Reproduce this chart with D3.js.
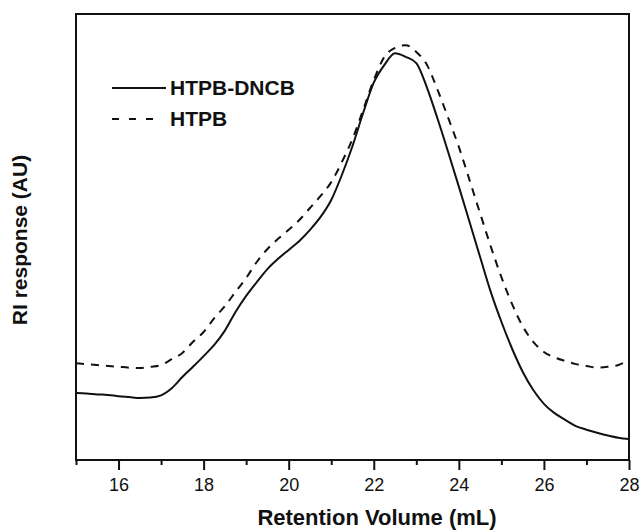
<!DOCTYPE html>
<html>
<head>
<meta charset="utf-8">
<script src="https://cdn.jsdelivr.net/npm/d3@7"></script>
<style>
  body { margin: 0; background: #fff; }
  text { font-family: "Liberation Sans", Arial, sans-serif; fill: #111; }
</style>
</head>
<body>
<div id="d3"></div>
<script>
// retention volume (mL), every 0.25 mL
const volume = d3.range(53).map((i) => 15 + i * 0.25);

// RI response (AU), arbitrary 0-100 units
const htpbDncb = [
  15.0, 14.9, 14.7, 14.6, 14.3, 14.1, 13.9, 14.0, 14.5, 16.1,
  18.6, 20.9, 23.3, 25.8, 29.0, 33.2, 36.8, 39.9, 42.8, 45.1,
  47.1, 49.1, 51.6, 54.5, 58.3, 63.9, 70.4, 77.8, 84.6, 88.6,
  91.2, 90.4, 89.0, 83.5, 76.5, 69.0, 61.3, 53.4, 45.5, 37.7,
  31.0, 25.0, 19.8, 15.7, 12.6, 10.5, 9.0, 7.6, 6.8, 6.1,
  5.5, 5.0, 4.7
];

const htpb = [
  21.7, 21.5, 21.3, 21.1, 20.9, 20.7, 20.6, 20.9, 21.3, 22.6,
  24.0, 26.5, 28.7, 31.8, 34.5, 37.7, 40.8, 44.4, 47.3, 49.6,
  51.6, 53.8, 56.5, 59.2, 62.3, 66.8, 72.0, 78.5, 85.2, 90.4,
  92.4, 93.0, 91.5, 88.6, 83.0, 76.7, 70.2, 62.8, 55.3, 47.9,
  41.0, 35.0, 30.0, 26.5, 24.2, 23.0, 22.2, 21.5, 21.1, 20.7,
  20.9, 21.3, 22.4
];

const majorTicks = [16, 18, 20, 22, 24, 26, 28];
const minorTicks = [15, 17, 19, 21, 23, 25, 27];

const seriesNames = ['HTPB-DNCB', 'HTPB'];

function init() {
  const width = 640;
  const height = 530;
  const left = 76;
  const right = 629;
  const top = 14;
  const bottom = 460;

  const svg = d3
    .select('#d3')
    .append('svg')
    .attr('width', width)
    .attr('height', height);

  const x = d3.scaleLinear().domain([15, 28]).range([left, right]);
  const y = d3.scaleLinear().domain([0, 100]).range([bottom, top]);

  // minor ticks first, no labels
  svg
    .append('g')
    .attr('transform', `translate(0,${bottom})`)
    .call(d3.axisBottom(x).tickValues(minorTicks).tickSize(5).tickFormat(''))
    .call((g) => g.select('.domain').remove())
    .selectAll('line')
    .attr('stroke', '#111')
    .attr('stroke-width', 2);

  const xAxis = svg
    .append('g')
    .attr('transform', `translate(0,${bottom})`)
    .call(d3.axisBottom(x).tickValues(majorTicks).tickSize(10).tickPadding(8));
  xAxis.select('.domain').remove();
  xAxis.selectAll('line').attr('stroke', '#111').attr('stroke-width', 2);
  xAxis
    .selectAll('text')
    .attr('font-size', 18)
    .attr('font-family', '"Liberation Sans", Arial, sans-serif')
    .attr('fill', '#111');

  // plot frame
  svg
    .append('rect')
    .attr('x', left)
    .attr('y', top)
    .attr('width', right - left)
    .attr('height', bottom - top)
    .attr('fill', 'none')
    .attr('stroke', '#111')
    .attr('stroke-width', 2);

  const line = (values) =>
    d3
      .line()
      .x((d, i) => x(volume[i]))
      .y((d) => y(d))
      .curve(d3.curveMonotoneX)(values);

  svg
    .append('path')
    .attr('d', line(htpb))
    .attr('fill', 'none')
    .attr('stroke', '#111')
    .attr('stroke-width', 2)
    .attr('stroke-dasharray', '8,7');

  svg
    .append('path')
    .attr('d', line(htpbDncb))
    .attr('fill', 'none')
    .attr('stroke', '#111')
    .attr('stroke-width', 2);

  // legend
  const legend = svg.append('g');
  [0, 1].forEach((i) => {
    const ly = 88 + i * 31;
    legend
      .append('line')
      .attr('x1', 112)
      .attr('x2', i === 0 ? 166 : 162)
      .attr('y1', ly)
      .attr('y2', ly)
      .attr('stroke', '#111')
      .attr('stroke-width', 2)
      .attr('stroke-dasharray', i === 0 ? null : '7,10');
    legend
      .append('text')
      .attr('x', 170)
      .attr('y', ly + 7)
      .attr('font-size', 21)
      .attr('font-weight', 'bold')
      .text(seriesNames[i]);
  });

  // axis titles
  svg
    .append('text')
    .attr('x', 377)
    .attr('y', 525)
    .attr('text-anchor', 'middle')
    .attr('font-size', 22)
    .attr('font-weight', 'bold')
    .text('Retention Volume (mL)');

  svg
    .append('text')
    .attr('transform', 'translate(27,240) rotate(-90)')
    .attr('text-anchor', 'middle')
    .attr('font-size', 21)
    .attr('font-weight', 'bold')
    .text('RI response (AU)');
}

init();
</script>
</body>
</html>
